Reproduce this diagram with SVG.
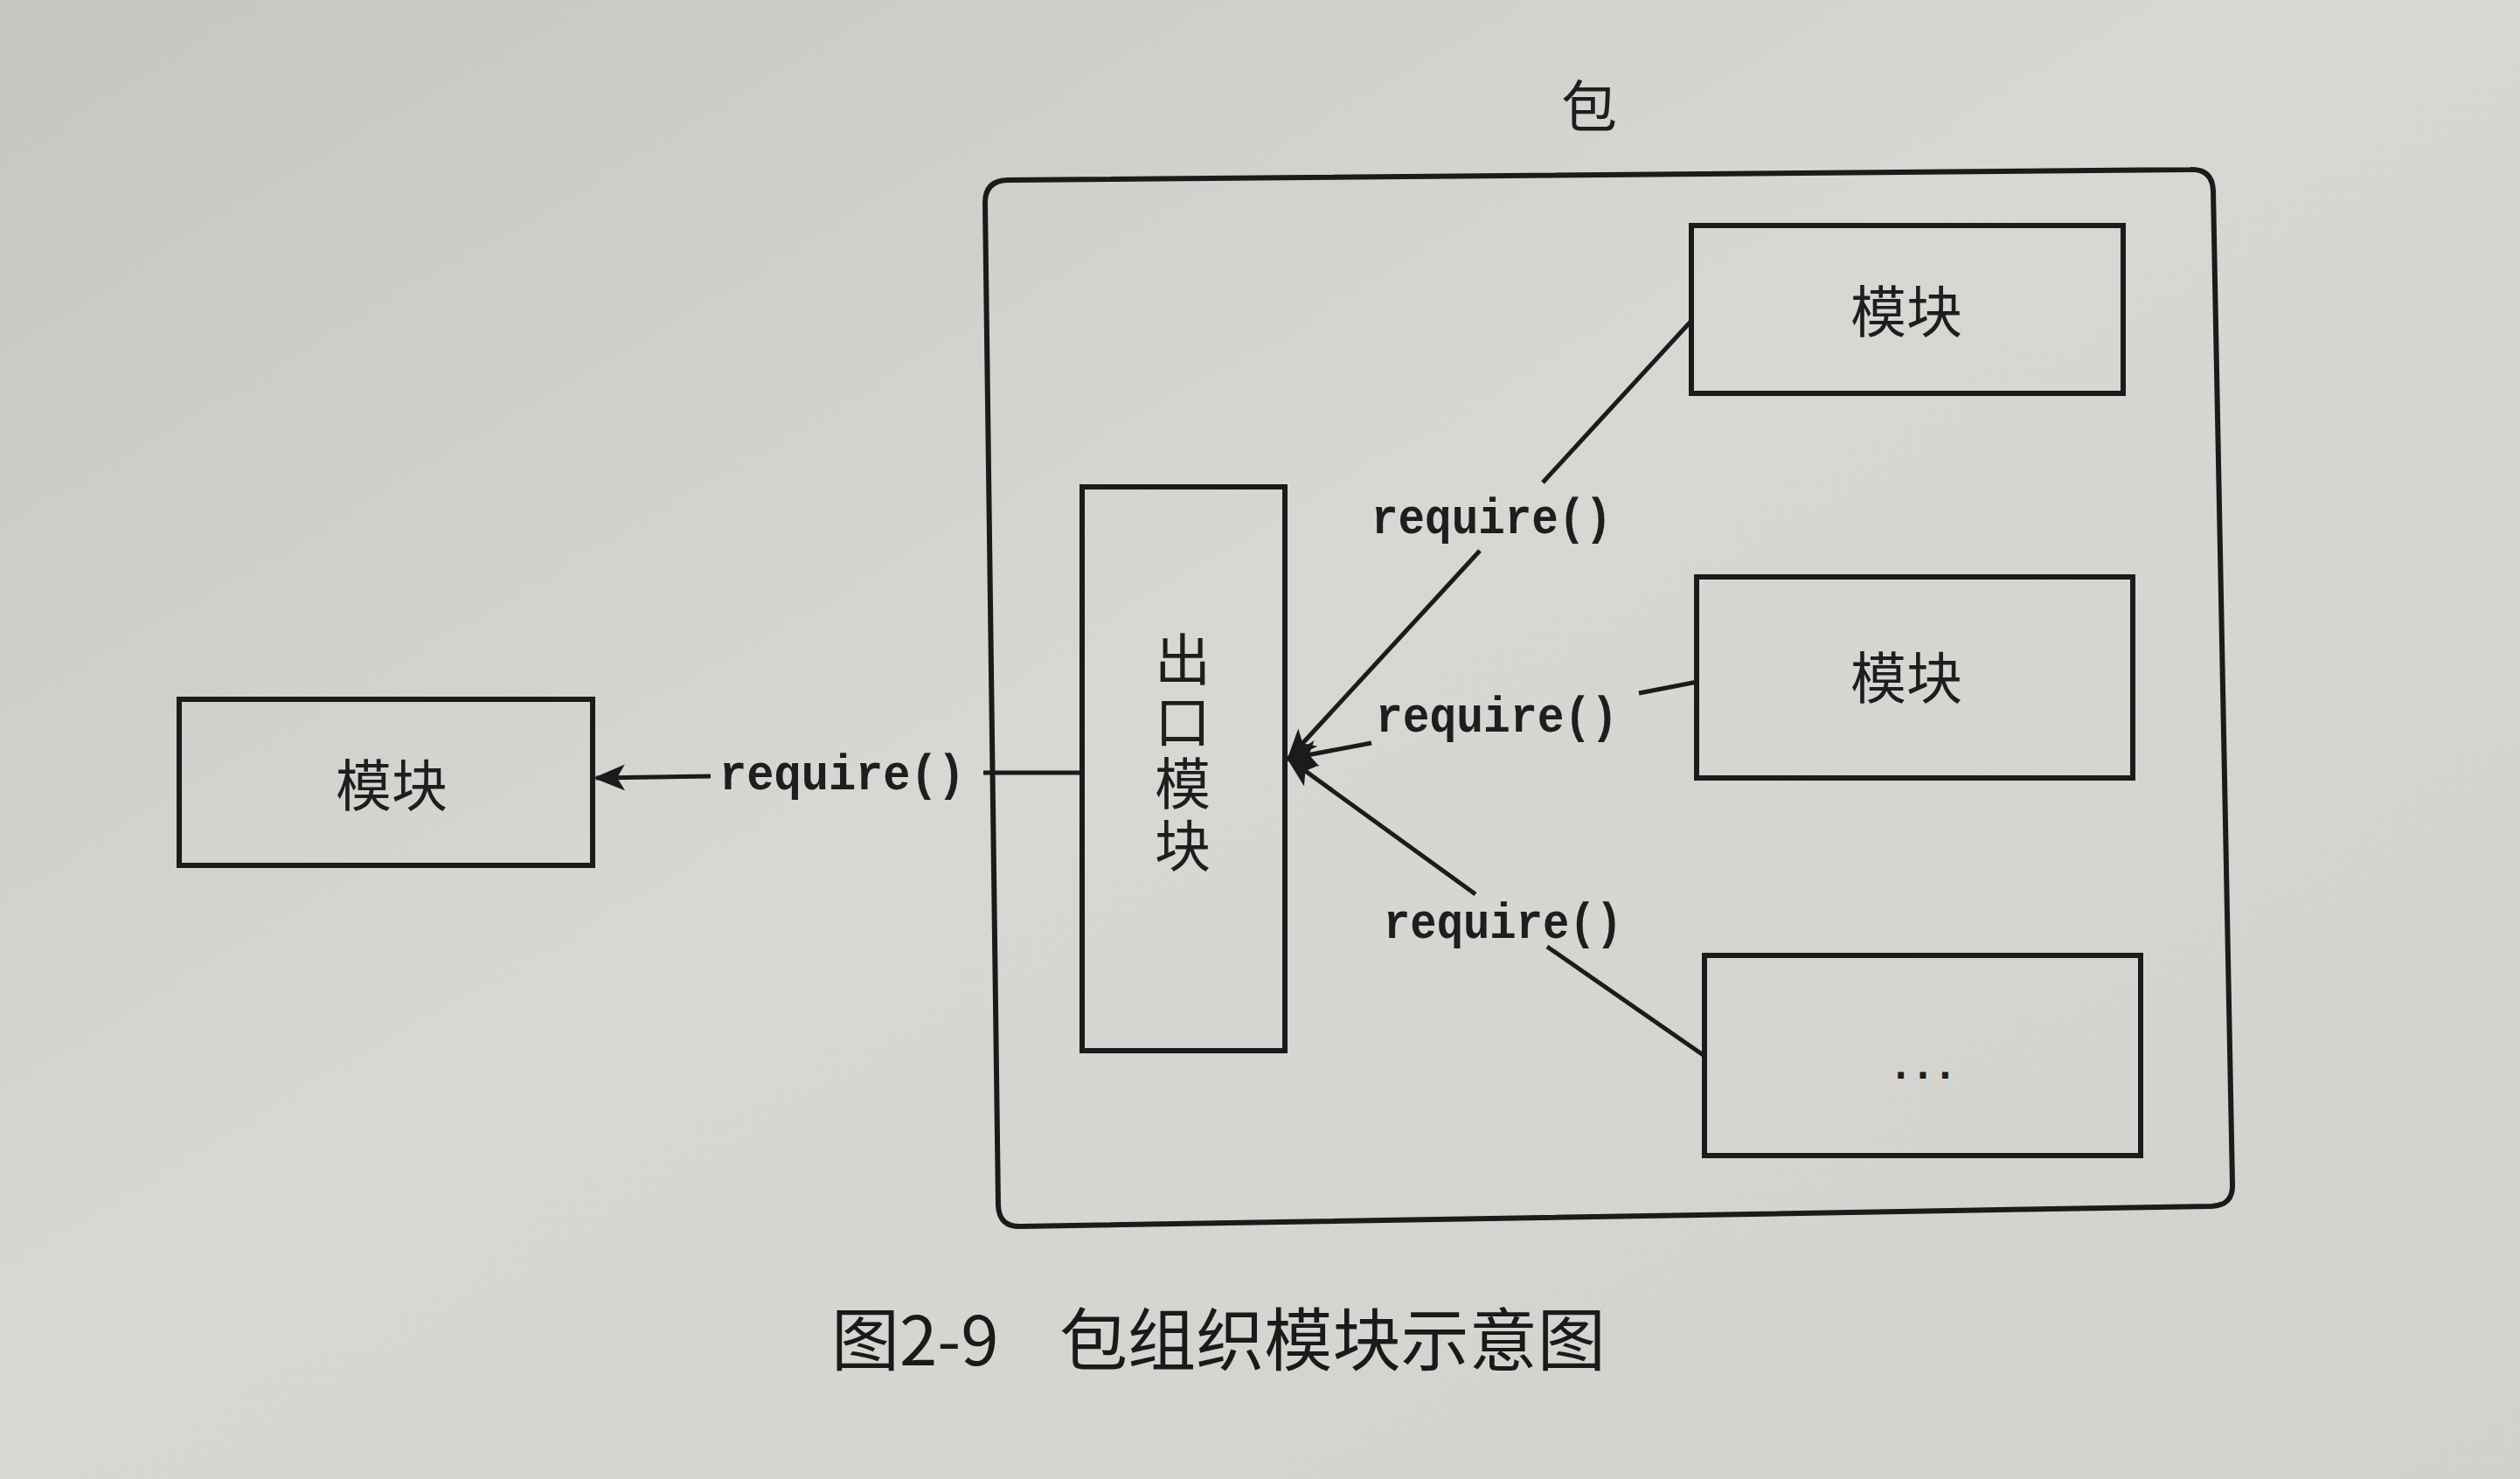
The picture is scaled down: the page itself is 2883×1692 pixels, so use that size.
<svg xmlns="http://www.w3.org/2000/svg" width="2883" height="1692" viewBox="0 0 2883 1692">
<defs>
  <linearGradient id="bg" x1="0" y1="0" x2="1" y2="1">
    <stop offset="0" stop-color="#c6c5c1"/>
    <stop offset="0.45" stop-color="#d8d7d3"/>
    <stop offset="1" stop-color="#d2d1cd"/>
  </linearGradient>
  <marker id="arrL" viewBox="0 0 12 10" refX="11" refY="5" markerWidth="42" markerHeight="30" markerUnits="userSpaceOnUse" orient="auto">
    <path d="M0,0 L12,5 L0,10 L3,5 Z" fill="#1b1b1b"/>
  </marker>
  <style>
    .box { fill: none; stroke: #1b1b1b; stroke-width: 6; }
    .pkg { fill: none; stroke: #1b1b1b; stroke-width: 6; }
    .cn { font-family: "Noto Sans CJK SC", "Noto Sans", sans-serif; font-size: 64px; fill: #1e1e1e; text-anchor: middle; }
    .vert { writing-mode: vertical-rl; text-anchor: start; letter-spacing: 7px; }
    .code { font-family: "Liberation Mono", "DejaVu Sans Mono", monospace; font-weight: bold; font-size: 58px; fill: #1e1e1e; }
    .cap { font-family: "Noto Sans CJK SC", "Noto Sans", sans-serif; font-size: 78px; fill: #1a1a1a; }
    .ln { fill: none; stroke: #1b1b1b; stroke-width: 5; }
  </style>
</defs>
<rect x="0" y="0" width="2883" height="1692" fill="url(#bg)"/>

<g id="package">
  <path class="pkg" d="M1152,206 L2506,194 Q2531,193 2532,218 L2554,1355 Q2555,1379 2530,1380 L1168,1403 Q1143,1404 1142,1379 L1127,232 Q1127,207 1152,206 Z"/>
  <text class="cn" x="1818" y="145" font-size="66">包</text>
</g>

<g id="node-left">
  <rect class="box" x="205" y="800" width="473" height="190"/>
  <text class="cn" x="448" y="922">模块</text>
</g>

<g id="node-export">
  <rect class="box" x="1238" y="557" width="232" height="645"/>
  <text class="cn vert" x="1353" y="722">出口模块</text>
</g>

<g id="node-top">
  <rect class="box" x="1935" y="258" width="494" height="192"/>
  <text class="cn" x="2181" y="380">模块</text>
</g>

<g id="node-mid">
  <rect class="box" x="1941" y="660" width="499" height="230"/>
  <text class="cn" x="2181" y="799">模块</text>
</g>

<g id="node-more">
  <rect class="box" x="1950" y="1093" width="499" height="229"/>
  <text x="2200" y="1234" font-family="DejaVu Sans Mono, Liberation Mono, monospace" font-weight="bold" font-size="42" fill="#1e1e1e" text-anchor="middle">...</text>
</g>

<g id="connectors">
  <!-- export -> left module -->
  <line class="ln" x1="1238" y1="884" x2="1125" y2="884"/>
  <line class="ln" x1="813" y1="888" x2="682" y2="890" marker-end="url(#arrL)"/>
  <text class="code" x="823" y="903" textLength="281" lengthAdjust="spacingAndGlyphs">require()</text>

  <!-- top module -> export -->
  <line class="ln" x1="1935" y1="367" x2="1765" y2="552"/>
  <line class="ln" x1="1693" y1="630" x2="1474" y2="868" marker-end="url(#arrL)"/>
  <text class="code" x="1569" y="610" textLength="275" lengthAdjust="spacingAndGlyphs">require()</text>

  <!-- mid module -> export -->
  <line class="ln" x1="1942" y1="780" x2="1875" y2="793"/>
  <line class="ln" x1="1569" y1="850" x2="1474" y2="868" marker-end="url(#arrL)"/>
  <text class="code" x="1574" y="837" textLength="277" lengthAdjust="spacingAndGlyphs">require()</text>

  <!-- more -> export -->
  <line class="ln" x1="1950" y1="1208" x2="1770" y2="1083"/>
  <line class="ln" x1="1688" y1="1023" x2="1474" y2="868" marker-end="url(#arrL)"/>
  <text class="code" x="1583" y="1073" textLength="273" lengthAdjust="spacingAndGlyphs">require()</text>
</g>

<g id="caption">
  <text class="cap" x="951" y="1562">图2-9</text>
  <text class="cap" x="1212" y="1562" textLength="625" lengthAdjust="spacingAndGlyphs">包组织模块示意图</text>
</g>
</svg>
